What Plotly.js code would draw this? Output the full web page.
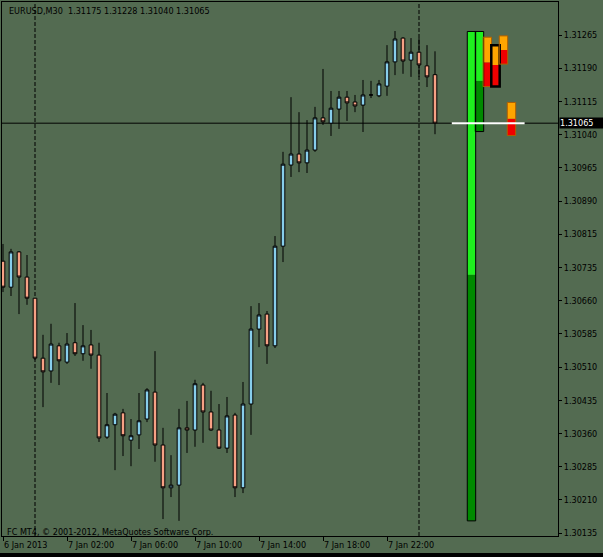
<!DOCTYPE html>
<html><head><meta charset="utf-8">
<script src="https://cdn.plot.ly/plotly-3.0.1.min.js"></script>
<style>html,body{margin:0;padding:0;background:#000;overflow:hidden}#chart{width:603px;height:553px}</style>
</head><body><div id="chart"></div>
<script>
// ---- data (EURUSD, M30, bars from 6 Jan 2013 22:00) ----
const open  = [1.30752,1.30693,1.30773,1.30716,1.30668,1.30532,1.30503,1.30560,1.30523,1.30567,1.30542,1.30562,1.30539,1.30353,1.30381,1.30408,1.30346,1.30358,1.30394,1.30455,1.30335,1.30238,1.30244,1.30374,1.30369,1.30471,1.30410,1.30369,1.30328,1.30403,1.30238,1.30428,1.30598,1.30632,1.30560,1.30786,1.30970,1.30995,1.30975,1.31004,1.31077,1.31065,1.31097,1.31124,1.31113,1.31106,1.31129,1.31127,1.31149,1.31204,1.31258,1.31208,1.31226,1.31195,1.31175];
const high  = [1.30791,1.30780,1.30775,1.30766,1.30668,1.30585,1.30610,1.30567,1.30589,1.30657,1.30607,1.30596,1.30567,1.30453,1.30408,1.30417,1.30394,1.30453,1.30464,1.30548,1.30374,1.30312,1.30417,1.30435,1.30483,1.30476,1.30458,1.30428,1.30444,1.30408,1.30478,1.30650,1.30657,1.30639,1.30809,1.31000,1.31124,1.31090,1.31072,1.31102,1.31188,1.31138,1.31138,1.31138,1.31129,1.31163,1.31161,1.31163,1.31242,1.31274,1.31260,1.31258,1.31258,1.31242,1.31228];
const low   = [1.30682,1.30673,1.30632,1.30653,1.30528,1.30421,1.30476,1.30471,1.30519,1.30537,1.30526,1.30508,1.30342,1.30349,1.30278,1.30310,1.30287,1.30326,1.30387,1.30297,1.30167,1.30217,1.30163,1.30317,1.30331,1.30340,1.30367,1.30326,1.30317,1.30217,1.30226,1.30358,1.30557,1.30519,1.30555,1.30750,1.30943,1.30954,1.30952,1.31000,1.31061,1.31036,1.31052,1.31070,1.31090,1.31045,1.31122,1.31124,1.31127,1.31174,1.31177,1.31170,1.31170,1.31147,1.31040];
const close = [1.30693,1.30773,1.30716,1.30668,1.30532,1.30501,1.30564,1.30526,1.30564,1.30542,1.30560,1.30539,1.30351,1.30381,1.30405,1.30356,1.30356,1.30390,1.30460,1.30335,1.30238,1.30244,1.30374,1.30369,1.30474,1.30410,1.30369,1.30328,1.30401,1.30238,1.30428,1.30598,1.30630,1.30560,1.30786,1.30972,1.30995,1.30975,1.31004,1.31077,1.31068,1.31099,1.31124,1.31111,1.31104,1.31129,1.31129,1.31154,1.31204,1.31256,1.31206,1.31226,1.31197,1.31170,1.31065];
const symbol = "EURUSD,M30";
const timeTickBars   = [0, 8, 16, 24, 32, 40, 48];
const timeTickLabels = ["6 Jan 2013","7 Jan 02:00","7 Jan 06:00","7 Jan 10:00","7 Jan 14:00","7 Jan 18:00","7 Jan 22:00"];
const daySeparatorBars = [4, 52];
const priceTickLabels = ["1.31265","1.31190","1.31115","1.31040","1.30965","1.30890","1.30815","1.30735","1.30660","1.30585","1.30510","1.30435","1.30360","1.30285","1.30210","1.30135"];
// range indicator columns (high / mid / low)
const rangeHigh = [1.31273,1.31273,1.31260,1.31242,1.31263,1.31112];
const rangeMid  = [1.30721,1.31161,1.31203,1.31197,1.31231,1.31075];
const rangeLow  = [1.30163,1.31046,1.31148,1.31148,1.31199,1.31037];

// ---- styling / geometry ----
const BG = "#536B51";
const FONT = "Tahoma, 'DejaVu Sans Condensed', 'Liberation Sans', Arial, sans-serif";
const plotLeft = 2, plotRight = 558, plotTop = 2, plotBottom = 536, figW = 603, figH = 553;
const pxPerBar = 8, firstBarPx = 3;
const xr0 = -(firstBarPx - plotLeft) / pxPerBar;
const xr1 = xr0 + (plotRight - plotLeft) / pxPerBar;
const firstTickPx = 35, lastTickPx = 533.2;
const pTop = parseFloat(priceTickLabels[0]), pBot = parseFloat(priceTickLabels[priceTickLabels.length - 1]);
const perPx = (pTop - pBot) / (lastTickPx - firstTickPx);
const yr1 = pTop + (firstTickPx - plotTop) * perPx;
const yr0 = pBot - (plotBottom - lastTickPx) * perPx;
const tickVals = priceTickLabels.map((_, i) => pTop - i * (pTop - pBot) / (priceTickLabels.length - 1));

const colSlots = [58.56, 59.56, 60.54, 61.56, 62.56, 63.56];
const upperColors = ["#1FF01F","#1FF01F","#FFA500","#FFA500","#FFA500","#FFA500"];
const lowerColors = ["#008A00","#008A00","#F00000","#F00000","#F00000","#F00000"];
const outlineColors = ["#000","#000","#B06000","#000","#B06000","#B06000"];
const outlineWidths = [1,1,1,2.5,1,1];

const idx = open.map((_, i) => i);
const n = close.length;
const last = close[n - 1];

const traces = [
  {type:"candlestick", x: idx, open, high, low, close,
   increasing:{line:{color:"#000", width:1}, fillcolor:"#87CEEB"},
   decreasing:{line:{color:"#000", width:1}, fillcolor:"#F7A184"},
   whiskerwidth:0, hoverinfo:"skip", showlegend:false},
  {type:"bar", x: colSlots, base: rangeLow, y: rangeMid.map((m, i) => m - rangeLow[i]), width: 1.05,
   marker:{color: lowerColors, line:{width:0}}, hoverinfo:"skip", showlegend:false},
  {type:"bar", x: colSlots, base: rangeMid, y: rangeHigh.map((h, i) => h - rangeMid[i]), width: 1.05,
   marker:{color: upperColors, line:{width:0}}, hoverinfo:"skip", showlegend:false},
  {type:"bar", x: colSlots, base: rangeLow, y: rangeHigh.map((h, i) => h - rangeLow[i]), width: 1.05,
   marker:{color:"rgba(0,0,0,0)", line:{color: outlineColors, width: outlineWidths}}, hoverinfo:"skip", showlegend:false}
];

const shapes = daySeparatorBars.map(b => ({type:"line", xref:"x", yref:"paper", x0:b, x1:b, y0:0, y1:1,
  line:{color:"#000", width:1, dash:"4px,2px"}, layer:"below"}));
shapes.push({type:"line", xref:"paper", yref:"y", x0:0, x1:1, y0:last, y1:last, line:{color:"#000", width:1}, layer:"below"});
shapes.push({type:"line", xref:"x", yref:"y", x0:56.1, x1:65.2, y0:last, y1:last, line:{color:"#FFF", width:2}});

const pw = plotRight - plotLeft, ph = plotBottom - plotTop;
const annotations = [
  {xref:"paper", yref:"paper", x:(7 - plotLeft) / pw, y:1 - (10.7 - plotTop) / ph, xanchor:"left", yanchor:"middle",
   text: symbol + "\u00a0\u00a0" + [open[n-1], high[n-1], low[n-1], close[n-1]].map(v => v.toFixed(5)).join(" "),
   showarrow:false, font:{family:FONT, size:9, color:"#000"}},
  {xref:"paper", yref:"paper", x:(5 - plotLeft) / pw, y:(plotBottom - 532) / ph, xanchor:"left", yanchor:"middle",
   text:"FC MT4, © 2001-2012, MetaQuotes Software Corp.", showarrow:false, font:{family:FONT, size:9, color:"#000"}},
  {xref:"paper", yref:"y", x:1, y:last, xanchor:"left", yanchor:"middle", xshift:1,
   text: last.toFixed(5), showarrow:false, bgcolor:"#000", borderpad:0, width:44, height:10, align:"left",
   font:{family:FONT, size:9, color:"#FFF"}}
];

const layout = {
  width: figW, height: figH,
  margin:{l:plotLeft, r:figW - plotRight, t:plotTop, b:figH - plotBottom, pad:0},
  paper_bgcolor: BG, plot_bgcolor: BG,
  showlegend:false, hovermode:false, barmode:"overlay", boxgap:0.35,
  font:{family:FONT, size:9, color:"#000"},
  xaxis:{range:[xr0, xr1], rangeslider:{visible:false}, showgrid:false, zeroline:false,
    showline:true, mirror:true, linecolor:"#000", linewidth:1,
    tickmode:"array", tickvals: timeTickBars, ticktext: timeTickLabels,
    ticks:"outside", ticklen:4, tickcolor:"#000", tickwidth:1, ticklabelposition:"outside right",
    tickfont:{family:FONT, size:9, color:"#000"}},
  yaxis:{range:[yr0, yr1], side:"right", showgrid:false, zeroline:false,
    showline:true, mirror:true, linecolor:"#000", linewidth:1,
    tickmode:"array", tickvals: tickVals, ticktext: priceTickLabels,
    ticks:"outside", ticklen:3, tickcolor:"#000", tickwidth:1,
    tickfont:{family:FONT, size:9, color:"#000"}},
  shapes, annotations
};

Plotly.newPlot("chart", traces, layout, {staticPlot:true, displayModeBar:false});
</script></body></html>
